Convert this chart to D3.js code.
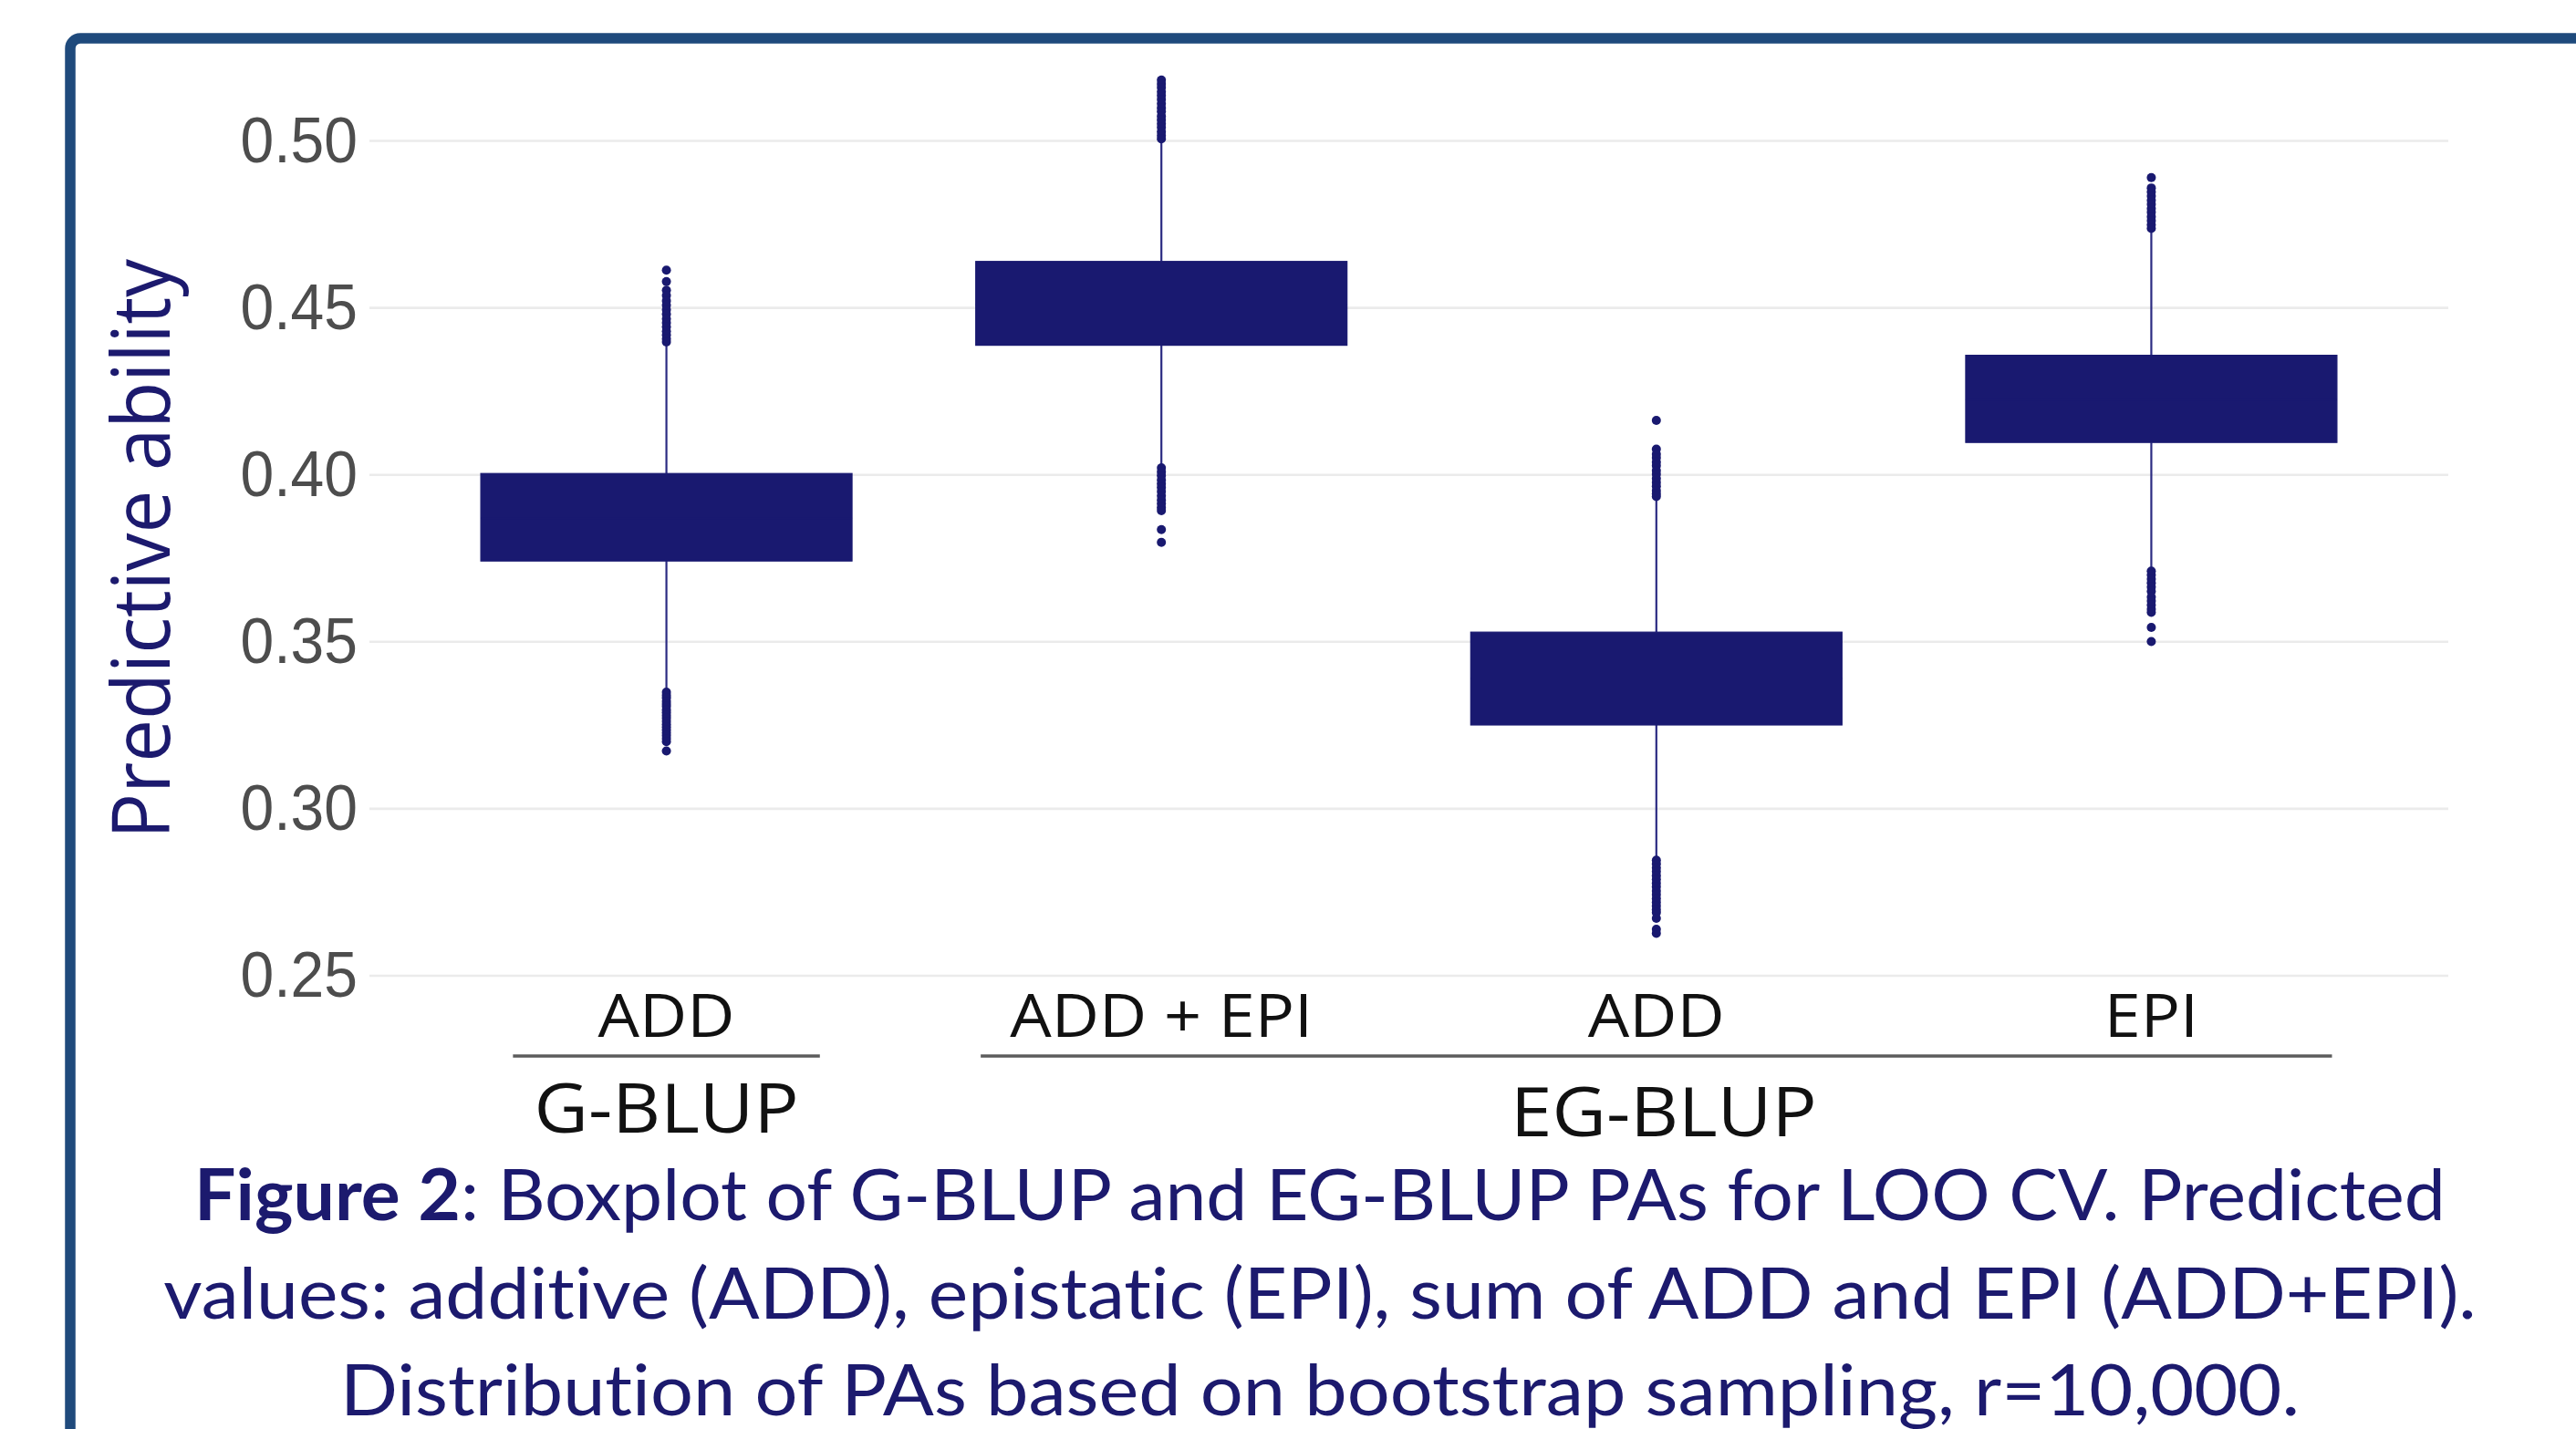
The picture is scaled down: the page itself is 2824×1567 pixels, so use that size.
<!DOCTYPE html>
<html><head><meta charset="utf-8">
<script src="https://cdn.jsdelivr.net/npm/d3@7"></script>
<style>html,body{margin:0;padding:0;background:#fff;overflow:hidden} text{font-variant-ligatures:none;font-feature-settings:"liga" 0,"clig" 0}</style>
</head><body>
<svg id="chart" width="2824" height="1567"></svg>
<script>
// ---------------- data ----------------
const categories = ["gblup_add", "egblup_addepi", "egblup_add", "egblup_epi"];
const tickLabels = ["ADD", "ADD + EPI", "ADD", "EPI"];
const groupNames = ["G-BLUP", "EG-BLUP"];
const groupFirst = [0, 1];
const groupLast = [0, 3];

const q1          = [0.3742, 0.4388, 0.3251, 0.4097];
const medians     = [0.3870, 0.4510, 0.3390, 0.4225];
const q3          = [0.4004, 0.4639, 0.3529, 0.4358];
const whiskerLow  = [0.3356, 0.4026, 0.2850, 0.3718];
const whiskerHigh = [0.4394, 0.5003, 0.3931, 0.4735];

const outliersGblupAdd = [0.4613, 0.4579, 0.4553, 0.4537, 0.4521, 0.4508, 0.4494, 0.4481, 0.4467, 0.4455,
  0.4443, 0.4430, 0.4419, 0.4407, 0.4398,
  0.3349, 0.3340, 0.3332, 0.3322, 0.3314, 0.3306, 0.3296, 0.3288, 0.3279, 0.3271, 0.3262, 0.3253,
  0.3245, 0.3236, 0.3227, 0.3219, 0.3210, 0.3201, 0.3173];
const outliersAddEpi = [0.5182, 0.5171, 0.5160, 0.5147, 0.5136, 0.5124, 0.5111, 0.5099, 0.5088, 0.5074,
  0.5063, 0.5051, 0.5040, 0.5027, 0.5016, 0.5006,
  0.4021, 0.4009, 0.3998, 0.3985, 0.3973, 0.3962, 0.3950, 0.3937, 0.3925, 0.3914, 0.3902, 0.3893,
  0.3836, 0.3798];
const outliersEgAdd = [0.4163, 0.4077, 0.4062, 0.4051, 0.4038, 0.4027, 0.4013, 0.4002, 0.3989, 0.3977,
  0.3966, 0.3953, 0.3943, 0.3935,
  0.2846, 0.2835, 0.2823, 0.2812, 0.2800, 0.2789, 0.2777, 0.2766, 0.2754, 0.2743, 0.2731, 0.2720,
  0.2709, 0.2698, 0.2689, 0.2672, 0.2639, 0.2627];
const outliersEpi = [0.4890, 0.4859, 0.4847, 0.4835, 0.4822, 0.4810, 0.4797, 0.4786, 0.4773, 0.4761,
  0.4749, 0.4738,
  0.3712, 0.3700, 0.3688, 0.3676, 0.3664, 0.3651, 0.3634, 0.3622, 0.3610, 0.3598, 0.3588,
  0.3543, 0.3501];
const outliers = [outliersGblupAdd, outliersAddEpi, outliersEgAdd, outliersEpi];

const yTicks = [0.25, 0.30, 0.35, 0.40, 0.45, 0.50];
const yTitle = "Predictive ability";
const captionBold = "Figure 2";
const captionLines = [
  ": Boxplot of G-BLUP and EG-BLUP PAs for LOO CV. Predicted",
  "values: additive (ADD), epistatic (EPI), sum of ADD and EPI (ADD+EPI).",
  "Distribution of PAs based on bootstrap sampling, r=10,000."
];

// ---------------- layout ----------------
const BOX = "#191970", NAVY = "#1c1a6e", FRAME = "#1f4a7c";
const panel = {left: 405, right: 2684, top: 154.5, bottom: 1070};
const svg = d3.select("#chart");

svg.append("rect").attr("width", 2824).attr("height", 1567).attr("fill", "#fff");

// frame
svg.append("path")
  .attr("d", "M77,1580 V53 A11,11 0 0 1 88,42 H2840")
  .attr("fill", "none").attr("stroke", FRAME).attr("stroke-width", 11.5);

const x = d3.scaleBand().domain(categories).range([panel.left, panel.right])
  .paddingInner(0).paddingOuter(0.1);
const y = d3.scaleLinear().domain([0.25, 0.50]).range([panel.bottom, panel.top]);
const step = x.step();
const cx = i => x(categories[i]) + x.bandwidth() / 2;

// grid
svg.append("g").selectAll("line").data(yTicks).join("line")
  .attr("x1", panel.left).attr("x2", panel.right)
  .attr("y1", d => y(d)).attr("y2", d => y(d))
  .attr("stroke", "#ebebeb").attr("stroke-width", 2.6);

// y axis
const yAxis = svg.append("g").attr("transform", `translate(${panel.left},0)`)
  .call(d3.axisLeft(y).tickValues(yTicks).tickFormat(d3.format(".2f")).tickSize(0).tickPadding(14));
yAxis.select(".domain").remove();
yAxis.selectAll("text")
  .attr("font-family", "'Liberation Sans', Arial, sans-serif")
  .attr("font-size", 71).attr("fill", "#4d4d4d")
  .attr("transform", "scale(0.93,1)");

// boxes
const gBox = svg.append("g");
categories.forEach((c, i) => {
  const g = gBox.append("g");
  const xc = cx(i), bw = x.bandwidth() * 0.75;
  g.append("line").attr("x1", xc).attr("x2", xc)
    .attr("y1", y(whiskerHigh[i])).attr("y2", y(q3[i]))
    .attr("stroke", "#2b2b82").attr("stroke-width", 2.2);
  g.append("line").attr("x1", xc).attr("x2", xc)
    .attr("y1", y(q1[i])).attr("y2", y(whiskerLow[i]))
    .attr("stroke", "#2b2b82").attr("stroke-width", 2.2);
  g.append("rect").attr("x", xc - bw / 2).attr("width", bw)
    .attr("y", y(q3[i])).attr("height", y(q1[i]) - y(q3[i]))
    .attr("fill", BOX).attr("stroke", BOX).attr("stroke-width", 1.2);
  g.append("line").attr("x1", xc - bw / 2).attr("x2", xc + bw / 2)
    .attr("y1", y(medians[i])).attr("y2", y(medians[i]))
    .attr("stroke", BOX).attr("stroke-width", 2);
  g.selectAll("circle").data(outliers[i]).join("circle")
    .attr("cx", xc).attr("cy", d => y(d)).attr("r", 5).attr("fill", BOX);
});

// y title
const yt = svg.append("text").text(yTitle)
  .attr("font-family", "'Open Sans', sans-serif").attr("font-size", 88)
  .attr("fill", NAVY).attr("text-anchor", "middle");
{
  const w = yt.node().getBBox().width;
  yt.attr("transform", `translate(186,${(283 + 921) / 2}) rotate(-90) scale(${637 / w},1)`);
}

// x axis labels
const xAxis = svg.append("g").attr("transform", `translate(0,${panel.bottom})`)
  .call(d3.axisBottom(x).tickFormat((d, i) => tickLabels[i]).tickSize(0).tickPadding(20));
xAxis.select(".domain").remove();
const xt = xAxis.selectAll("text")
  .attr("font-family", "'Open Sans', sans-serif").attr("font-size", 66).attr("fill", "#111");
const addW = xt.nodes()[0].getBBox().width;
const xScaleFit = 150 / addW;
xt.attr("transform", `scale(${xScaleFit},1)`);

// group underlines and labels
const underlinePad = [0.31, 0.365];
const groupShift = [0, 8];
groupNames.forEach((name, gi) => {
  const a = cx(groupFirst[gi]), b = cx(groupLast[gi]);
  svg.append("line")
    .attr("x1", a - underlinePad[gi] * step).attr("x2", b + underlinePad[gi] * step)
    .attr("y1", 1158).attr("y2", 1158)
    .attr("stroke", "#5c5c5c").attr("stroke-width", 3.5);
  const t = svg.append("text").text(name)
    .attr("font-family", "'Open Sans', sans-serif").attr("font-size", 75)
    .attr("fill", "#111").attr("text-anchor", "middle");
  t.attr("transform", `translate(${(a + b) / 2 + groupShift[gi]},${1242 + gi * 4}) scale(${xScaleFit},1)`);
});

// caption
const capBase = [1338, 1446, 1552];
const capWidth = [2468, 2536, 2148];
const capCenter = 1447;
captionLines.forEach((line, i) => {
  const t = svg.append("text")
    .attr("font-family", "Lato, 'Open Sans', sans-serif").attr("font-size", 78)
    .attr("fill", NAVY).attr("text-anchor", "middle");
  if (i === 0) t.append("tspan").attr("font-weight", 700).text(captionBold);
  t.append("tspan").text(line);
  const w = t.node().getBBox().width;
  t.attr("transform", `translate(${capCenter},${capBase[i]}) scale(${capWidth[i] / w},1)`);
});
</script>
</body></html>
